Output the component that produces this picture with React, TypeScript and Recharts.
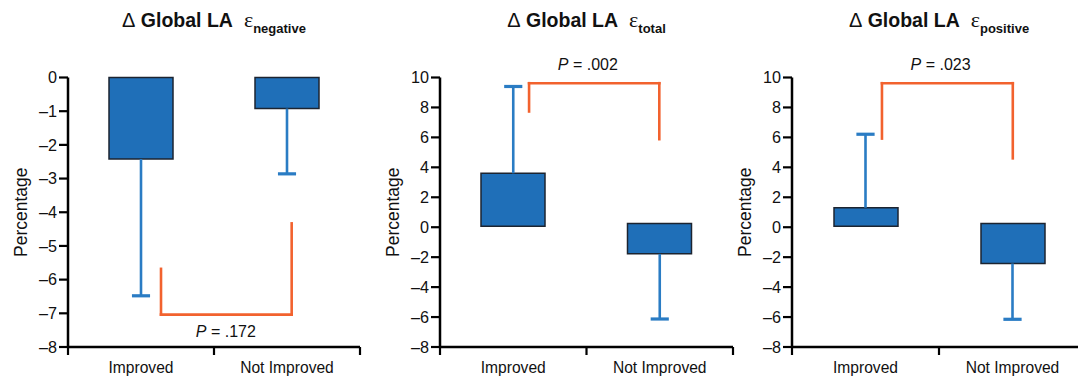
import React from 'react';
import { ComposedChart, Bar, XAxis, YAxis, ReferenceLine, ReferenceDot, Label } from 'recharts';

// ---------- shared ----------
const categories = ['Improved', 'Not Improved'];
const categoryPos = [0.5, 1.5];
const boundaryTicks = [0, 1, 2];

// ---------- Δ Global LA ε negative ----------
const negBarStart = [0, 0];
const negBarEnd = [-2.42, -0.92];
const negErrorEnd = [-6.48, -2.86];
const negBracketX = [0.637, 1.532];
const negBracketY = [-5.68, -7.04, -4.33]; // left end, bridge, right end
const negPValue = '.172';
const negPLabelPos = [1.081, -7.52];
const negYTicks = [0, -1, -2, -3, -4, -5, -6, -7, -8];

// ---------- Δ Global LA ε total ----------
const totBarStart = [0.07, 0.25];
const totBarEnd = [3.6, -1.78];
const totErrorEnd = [9.4, -6.13];
const totBracketX = [0.608, 1.497];
const totBracketY = [7.73, 9.62, 5.88];
const totPValue = '.002';
const totPLabelPos = [1.009, 10.93];

// ---------- Δ Global LA ε positive ----------
const posBarStart = [0.07, 0.25];
const posBarEnd = [1.3, -2.42];
const posErrorEnd = [6.21, -6.15];
const posBracketX = [0.612, 1.502];
const posBracketY = [5.92, 9.62, 4.6];
const posPValue = '.023';
const posPLabelPos = [1.011, 10.93];

const wideYTicks = [10, 8, 6, 4, 2, 0, -2, -4, -6, -8];

const FONT = '"Liberation Sans", Arial, Helvetica, sans-serif';
const SERIF = '"Liberation Serif", "Times New Roman", serif';
const BAR_FILL = '#1f6fb8';
const BAR_STROKE = '#1c2430';
const ERR_COLOR = '#2a7cc4';
const BRACKET_COLOR = '#f2622e';
const CAP_HALF = 0.062;

type PanelCfg = {
  key: string;
  sub: string;
  left: number;
  width: number;
  marginRight: number;
  yDomain: [number, number];
  yTicks: number[];
  barStart: number[];
  barEnd: number[];
  errorEnd: number[];
  bracketX: number[];
  bracketY: number[];
  pValue: string;
  pLabelPos: number[];
};

const panels: PanelCfg[] = [
  {
    key: 'neg', sub: 'negative', left: 0, width: 370, marginRight: 10,
    yDomain: [-8, 0], yTicks: negYTicks,
    barStart: negBarStart, barEnd: negBarEnd, errorEnd: negErrorEnd,
    bracketX: negBracketX, bracketY: negBracketY, pValue: negPValue, pLabelPos: negPLabelPos,
  },
  {
    key: 'tot', sub: 'total', left: 372, width: 372, marginRight: 11,
    yDomain: [-8, 10], yTicks: wideYTicks,
    barStart: totBarStart, barEnd: totBarEnd, errorEnd: totErrorEnd,
    bracketX: totBracketX, bracketY: totBracketY, pValue: totPValue, pLabelPos: totPLabelPos,
  },
  {
    key: 'pos', sub: 'positive', left: 724, width: 372, marginRight: 10,
    yDomain: [-8, 10], yTicks: wideYTicks,
    barStart: posBarStart, barEnd: posBarEnd, errorEnd: posErrorEnd,
    bracketX: posBracketX, bracketY: posBracketY, pValue: posPValue, pLabelPos: posPLabelPos,
  },
];

const Y_AXIS_W = 68;
const TOP = 77.5;
const X_AXIS_H = 31;
const H = 378;

const fmt = (v: number) => (v < 0 ? `\u2013${Math.abs(v)}` : `${v}`);

const XTick = (props: any) => {
  const { x, y, payload } = props;
  const idx = categoryPos.indexOf(payload.value);
  if (idx >= 0) {
    return (
      <text x={x} y={y + 26} textAnchor="middle" fill="#111" fontSize={15.6} fontFamily={FONT}>
        {categories[idx]}
      </text>
    );
  }
  if (boundaryTicks.indexOf(payload.value) >= 0) {
    return <line x1={x} y1={y} x2={x} y2={y + 8} stroke="#000" strokeWidth={2.2} />;
  }
  return null;
};

const YLabel = (props: any) => {
  const vb = props.viewBox || { x: 0, y: TOP, width: Y_AXIS_W, height: 270 };
  const cx = vb.x + 20.5;
  const cy = vb.y + vb.height / 2;
  return (
    <text
      x={cx}
      y={cy}
      transform={`rotate(-90, ${cx}, ${cy})`}
      textAnchor="middle"
      dominantBaseline="central"
      fill="#111"
      fontSize={17.5}
      fontFamily={FONT}
    >
      Percentage
    </text>
  );
};

const PLabel = (props: any) => {
  const vb = props.viewBox || { x: 0, y: 0, width: 0, height: 0 };
  const cx = vb.x + (vb.width || 0) / 2;
  const cy = vb.y + (vb.height || 0) / 2;
  return (
    <text x={cx} y={cy} textAnchor="middle" dominantBaseline="central" fill="#111" fontSize={16} fontFamily={FONT}>
      <tspan fontStyle="italic">P</tspan>
      <tspan> = {props.pValue}</tspan>
    </text>
  );
};

const Panel = ({ cfg }: { cfg: PanelCfg }) => {
  const rows = categories.map((c, i) => ({
    name: c,
    pos: categoryPos[i],
    range: [cfg.barStart[i], cfg.barEnd[i]],
  }));
  const plotW = cfg.width - Y_AXIS_W - cfg.marginRight;
  const titleX = Y_AXIS_W + plotW / 2;
  const [bx0, bx1] = cfg.bracketX;
  const [by0, by1, by2] = cfg.bracketY;
  const bracketSegs = [
    [{ x: bx0, y: by0 }, { x: bx0, y: by1 }],
    [{ x: bx0, y: by1 }, { x: bx1, y: by1 }],
    [{ x: bx1, y: by1 }, { x: bx1, y: by2 }],
  ];
  return (
    <div style={{ position: 'absolute', left: cfg.left, top: 0, width: cfg.width, height: H }}>
      <ComposedChart
        width={cfg.width}
        height={H}
        data={rows}
        margin={{ top: TOP, right: cfg.marginRight, bottom: 0, left: 0 }}
      >
        <XAxis
          dataKey="pos"
          type="number"
          domain={[0, 2]}
          ticks={[0, 0.5, 1, 1.5, 2]}
          interval={0}
          tickSize={0}
          tickMargin={0}
          tickLine={false}
          axisLine={{ stroke: '#000', strokeWidth: 2.5 }}
          tick={<XTick />}
          height={X_AXIS_H}
          allowDecimals
        />
        <YAxis
          type="number"
          domain={cfg.yDomain}
          ticks={cfg.yTicks}
          interval={0}
          width={Y_AXIS_W}
          tickSize={9}
          tickMargin={2}
          axisLine={{ stroke: '#000', strokeWidth: 2.5 }}
          tickLine={{ stroke: '#000', strokeWidth: 2.2 }}
          tick={{ fill: '#111', fontSize: 16.2, fontFamily: FONT }}
          tickFormatter={fmt}
        >
          <Label content={<YLabel />} />
        </YAxis>
        <Bar
          dataKey="range"
          fill={BAR_FILL}
          stroke={BAR_STROKE}
          strokeWidth={1.5}
          barSize={64}
          isAnimationActive={false}
        />
        {categoryPos.map((p, i) => (
          <ReferenceLine
            key={`err-${i}`}
            segment={[{ x: p, y: cfg.barEnd[i] }, { x: p, y: cfg.errorEnd[i] }]}
            stroke={ERR_COLOR}
            strokeWidth={2.6}
          />
        ))}
        {categoryPos.map((p, i) => (
          <ReferenceLine
            key={`cap-${i}`}
            segment={[{ x: p - CAP_HALF, y: cfg.errorEnd[i] }, { x: p + CAP_HALF, y: cfg.errorEnd[i] }]}
            stroke={ERR_COLOR}
            strokeWidth={3.2}
          />
        ))}
        {bracketSegs.map((s, i) => (
          <ReferenceLine
            key={`br-${i}`}
            segment={s}
            stroke={BRACKET_COLOR}
            strokeWidth={2.6}
            strokeLinecap="square"
          />
        ))}
        <ReferenceDot
          x={cfg.pLabelPos[0]}
          y={cfg.pLabelPos[1]}
          r={1}
          fill="none"
          stroke="none"
          ifOverflow="visible"
          label={<PLabel pValue={cfg.pValue} />}
        />
      </ComposedChart>
      <svg
        width={cfg.width}
        height={45}
        style={{ position: 'absolute', left: 0, top: 0, pointerEvents: 'none' }}
      >
        <text x={titleX} y={27} textAnchor="middle" fill="#111" fontFamily={FONT}>
          <tspan fontSize={20} fontWeight="normal">Δ</tspan>
          <tspan fontSize={19.5} fontWeight="bold"> Global LA</tspan>
          <tspan dx={11} fontSize={22} fontFamily={SERIF} fontWeight="normal">ε</tspan>
          <tspan dy={6} fontSize={13} fontWeight="bold">{cfg.sub}</tspan>
        </text>
      </svg>
    </div>
  );
};

export default function App() {
  return (
    <div
      style={{
        position: 'absolute',
        left: 0,
        top: 0,
        width: 1078,
        height: 378,
        overflow: 'hidden',
        background: '#fff',
        fontFamily: FONT,
      }}
    >
      {panels.map((p) => (
        <Panel key={p.key} cfg={p} />
      ))}
    </div>
  );
}
